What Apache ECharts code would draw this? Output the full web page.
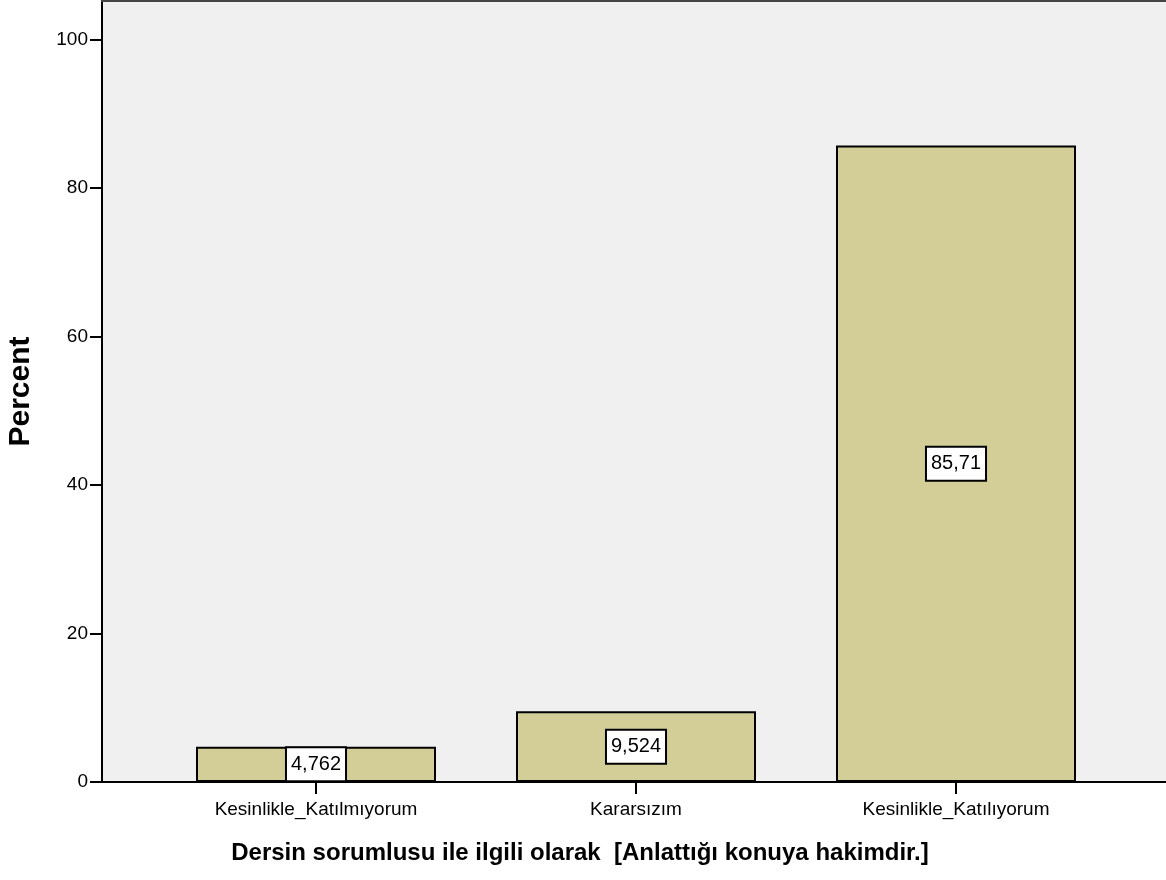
<!DOCTYPE html>
<html>
<head>
<meta charset="utf-8">
<script src="https://cdn.jsdelivr.net/npm/echarts@6/dist/echarts.min.js"></script>
<style>
  html, body { margin: 0; padding: 0; background: #fff; }
  #chart { width: 1166px; height: 880px; }
</style>
</head>
<body>
<div id="chart"></div>
<script>
// veriler
const categories = ['Kesinlikle_Katılmıyorum', 'Kararsızım', 'Kesinlikle_Katılıyorum'];
const percents = [4.762, 9.524, 85.71];
const percentLabels = ['4,762', '9,524', '85,71'];
const yTicks = [0, 20, 40, 60, 80, 100];

const xTitle = 'Dersin sorumlusu ile ilgili olarak  [Anlattığı konuya hakimdir.]';
const yTitle = 'Percent';

const font = 'Arial, "Liberation Sans", sans-serif';

const myChart = echarts.init(document.getElementById('chart'));

let option = {
    animation: false,
    title: {
        text: xTitle,
        left: 575,
        textAlign: 'center',
        top: 836,
        textStyle: { fontFamily: font, fontSize: 24, fontWeight: 'bold', color: '#000' }
    },
    grid: [
        // frame + background
        { left: 102, right: 0, top: 1, bottom: 98, show: true, backgroundColor: '#f0f0f0', borderWidth: 0, outerBoundsMode: 'none', containLabel: false },
        // bars
        { left: 156, right: 50, top: 39.5, bottom: 98, outerBoundsMode: 'none', containLabel: false }
    ],
    xAxis: [
        {
            gridIndex: 0, type: 'value', min: 0, max: 1,
            axisLine: { show: true, lineStyle: { color: '#000', width: 2 } },
            axisTick: { show: false }, axisLabel: { show: false }, splitLine: { show: false }
        },
        {
            gridIndex: 0, type: 'value', min: 0, max: 1, position: 'top',
            axisLine: { show: true, lineStyle: { color: '#444', width: 2 } },
            axisTick: { show: false }, axisLabel: { show: false }, splitLine: { show: false }
        },
        {
            gridIndex: 1, type: 'category', data: categories,
            axisLine: { show: false },
            axisTick: { show: true, alignWithLabel: true, inside: false, length: 12, lineStyle: { color: '#000', width: 2 } },
            axisLabel: { fontFamily: font, fontSize: 19, color: '#000', margin: 18 },
            splitLine: { show: false }
        }
    ],
    yAxis: [
        {
            gridIndex: 0, type: 'value', min: 0, max: 1,
            name: yTitle, nameLocation: 'middle', nameGap: 66, nameRotate: 90,
            nameTextStyle: { fontFamily: font, fontSize: 30, fontWeight: 'bold', color: '#000' },
            axisLine: { show: true, lineStyle: { color: '#000', width: 2 } },
            axisTick: { show: false }, axisLabel: { show: false }, splitLine: { show: false }
        },
        {
            gridIndex: 1, type: 'value', min: yTicks[0], max: yTicks[yTicks.length - 1], interval: 20,
            offset: 54,
            axisLine: { show: false },
            axisTick: { show: true, length: 12, lineStyle: { color: '#000', width: 2 } },
            axisLabel: { fontFamily: font, fontSize: 19, color: '#000', margin: 14 },
            splitLine: { show: false }
        }
    ],
    series: [{
        type: 'bar',
        xAxisIndex: 2,
        yAxisIndex: 1,
        data: percents,
        barWidth: 240,
        itemStyle: { color: '#d3ce97', borderColor: '#000', borderWidth: 2 },
        label: {
            show: true,
            position: 'inside',
            formatter: function (p) { return percentLabels[p.dataIndex]; },
            fontFamily: font,
            fontSize: 20,
            color: '#000',
            backgroundColor: '#fff',
            borderColor: '#000',
            borderWidth: 2,
            padding: [7, 4, 5, 4]
        }
    }]
};

myChart.setOption(option);
</script>
</body>
</html>
